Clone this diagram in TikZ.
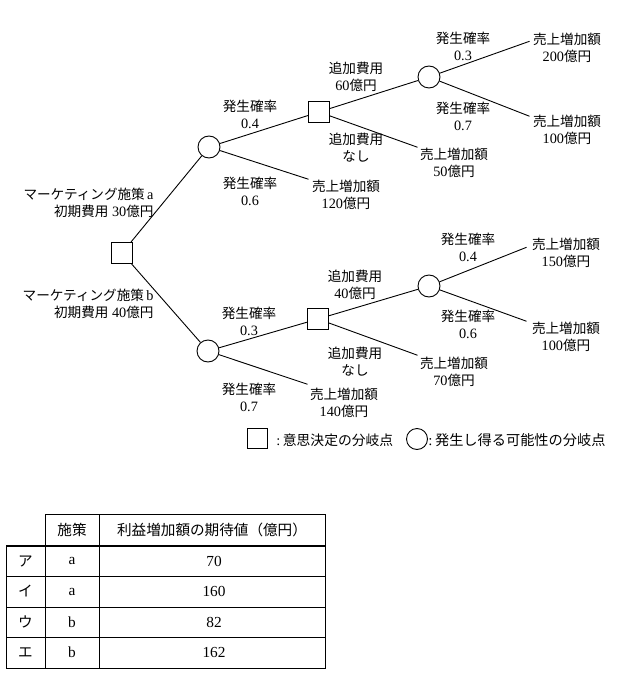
\documentclass[tikz,border=0pt]{standalone}
\usepackage{fontspec}
\setmainfont{Liberation Serif}[Scale=1.05]
\newfontfamily\cjk{Noto Sans CJK JP}
\newcommand\J[1]{{\cjk #1}}
\begin{document}
\begin{tikzpicture}[x=1pt,y=-1pt,
  font=\fontsize{13.6}{17}\selectfont,
  every path/.style={line width=0.9pt},
  dec/.style={draw, rectangle, minimum size=21pt, inner sep=0pt, line width=0.9pt},
  chance/.style={draw, circle, minimum size=22pt, inner sep=0pt, line width=0.9pt},
  lbl/.style={align=center, inner sep=0pt},
  edge/.style={draw, line width=0.9pt},
  tbl/.style={line width=1pt},
  tcell/.style={inner sep=0pt, font=\fontsize{14.6}{17}\selectfont}]
\useasboundingbox (0,0) rectangle (632,679);

% decision and chance nodes
\node[dec] (root) at (122,253) {};
\node[chance] (c1) at (209,147) {};
\node[chance] (c2) at (208,351) {};
\node[dec] (s1) at (319,112) {};
\node[dec] (s2) at (318,319) {};
\node[chance] (c3) at (429,77) {};
\node[chance] (c4) at (429,286) {};

% labels: upper branch
\node[lbl, anchor=east, align=right] (ma) at (154,203) {\J{マーケティング施策}\,a\\\J{初期費用} 30\J{億円}};
\node[lbl, anchor=east, align=right] (mb) at (154,304) {\J{マーケティング施策}\,b\\\J{初期費用} 40\J{億円}};
\node[lbl] (pa04) at (250,114.5) {\J{発生確率}\\0.4};
\node[lbl] (pa06) at (250,191.5) {\J{発生確率}\\0.6};
\node[lbl] (ad60) at (356,76.5) {\J{追加費用}\\60\J{億円}};
\node[lbl] (adn1) at (356,147.5) {\J{追加費用}\\\J{なし}};
\node[lbl] (p03) at (463,46.5) {\J{発生確率}\\0.3};
\node[lbl] (p07) at (463,116.5) {\J{発生確率}\\0.7};
\node[lbl] (t200) at (567,47.5) {\J{売上増加額}\\200\J{億円}};
\node[lbl] (t100a) at (567,129.5) {\J{売上増加額}\\100\J{億円}};
\node[lbl] (t50) at (454,162.5) {\J{売上増加額}\\50\J{億円}};
\node[lbl] (t120) at (346,194.5) {\J{売上増加額}\\120\J{億円}};

% labels: lower branch
\node[lbl] (pb03) at (249,321.5) {\J{発生確率}\\0.3};
\node[lbl] (pb07) at (249,397.5) {\J{発生確率}\\0.7};
\node[lbl] (ad40) at (355,284.5) {\J{追加費用}\\40\J{億円}};
\node[lbl] (adn2) at (355,361.5) {\J{追加費用}\\\J{なし}};
\node[lbl] (p04) at (468,247.5) {\J{発生確率}\\0.4};
\node[lbl] (p06) at (468,324.5) {\J{発生確率}\\0.6};
\node[lbl] (t150) at (566,252.5) {\J{売上増加額}\\150\J{億円}};
\node[lbl] (t100b) at (566,336.5) {\J{売上増加額}\\100\J{億円}};
\node[lbl] (t70) at (454,371.5) {\J{売上増加額}\\70\J{億円}};
\node[lbl] (t140) at (344,402.5) {\J{売上増加額}\\140\J{億円}};

% connectors
\draw[edge] (root) -- (c1);
\draw[edge] (root) -- (c2);
\draw[edge] (c1) -- (s1);
\draw[edge] (c1) -- ([xshift=-3pt]t120.north west);
\draw[edge] (s1) -- (c3);
\draw[edge] (s1) -- ([xshift=-2pt]t50.north west);
\draw[edge] (c3) -- ([xshift=-3pt,yshift=-9pt]t200.north west);
\draw[edge] (c3) -- ([xshift=-3pt,yshift=-2pt]t100a.north west);
\draw[edge] (c2) -- (s2);
\draw[edge] (c2) -- ([xshift=-2pt,yshift=3pt]t140.north west);
\draw[edge] (s2) -- (c4);
\draw[edge] (s2) -- ([xshift=-2pt,yshift=1pt]t70.north west);
\draw[edge] (c4) -- ([xshift=-5pt,yshift=-10pt]t150.north west);
\draw[edge] (c4) -- ([xshift=-5pt]t100b.north west);

% legend
\node[dec, minimum size=20pt] (lgs) at (257,438) {};
\node[lbl, anchor=west, font=\fontsize{13.8}{17}\selectfont] (lgst) at (276,440) {:\,\J{意思決定の分岐点}};
\node[chance, minimum size=21pt] (lgc) at (417,439) {};
\node[lbl, anchor=west, font=\fontsize{14.2}{17}\selectfont] (lgct) at (428,440) {:\,\J{発生し得る可能性の分岐点}};

% table
\draw[tbl] (45,514) -- (325,514) -- (325,668) -- (6,668) -- (6,546);
\draw[tbl] (45,514) -- (45,668);
\draw[tbl] (99,514) -- (99,668);
\draw[line width=1.4pt] (6,546) -- (325,546);
\draw[tbl] (6,576) -- (325,576);
\draw[tbl] (6,607) -- (325,607);
\draw[tbl] (6,637) -- (325,637);

\node[tcell] (h1) at (72,530) {\J{施策}};
\node[tcell] (h2) at (212,530) {\J{利益増加額の期待値（億円）}};
\node[tcell] (r1a) at (25.5,561) {\J{ア}};
\node[tcell] (r1b) at (72,561) {a};
\node[tcell] (r1c) at (214,561) {70};
\node[tcell] (r2a) at (25.5,591.5) {\J{イ}};
\node[tcell] (r2b) at (72,591.5) {a};
\node[tcell] (r2c) at (214,591.5) {160};
\node[tcell] (r3a) at (25.5,622) {\J{ウ}};
\node[tcell] (r3b) at (72,622) {b};
\node[tcell] (r3c) at (214,622) {82};
\node[tcell] (r4a) at (25.5,652.5) {\J{エ}};
\node[tcell] (r4b) at (72,652.5) {b};
\node[tcell] (r4c) at (214,652.5) {162};
\end{tikzpicture}
\end{document}
